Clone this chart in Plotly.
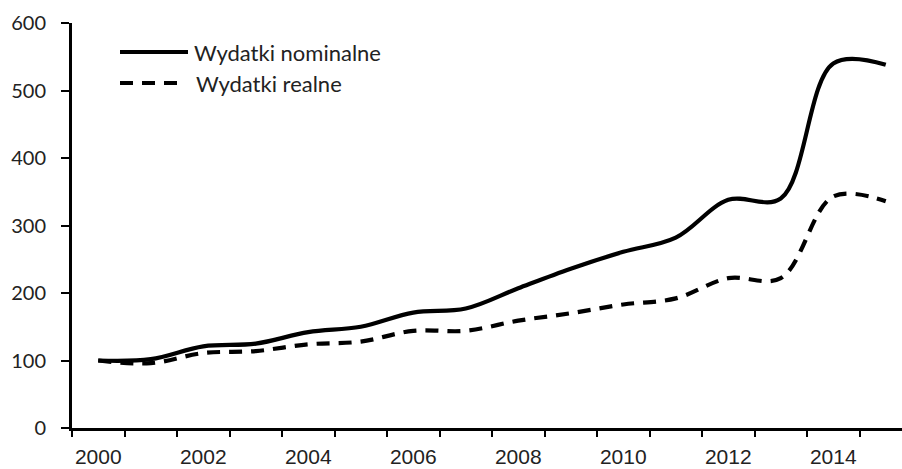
import plotly.graph_objects as go

years = list(range(2000, 2016))
nominal = [100, 102, 121, 125, 142, 150, 171, 177, 207, 236, 261, 282, 338, 340, 540, 538]
real = [100, 96, 111, 114, 124, 128, 144, 144, 159, 170, 183, 192, 222, 222, 343, 336]
label_years = list(range(2000, 2016, 2))
y_ticks = [0, 100, 200, 300, 400, 500, 600]

W, H = 902, 469
L, T, B = 72, 23, 41
R = 0
pw, ph = W - L - R, H - T - B

def px(x):
    return (x - L) / pw

def py(y):
    return (H - B - y) / ph

fig = go.Figure()
fig.add_trace(go.Scatter(x=years, y=nominal, mode="lines", name="Wydatki nominalne",
                         line=dict(color="black", width=4.2, shape="spline", smoothing=1.0)))
fig.add_trace(go.Scatter(x=years, y=real, mode="lines", name="Wydatki realne",
                         line=dict(color="black", width=4.2, shape="spline", smoothing=1.0,
                                   dash="13px,9px")))

# manual legend
fig.add_shape(type="line", xref="paper", yref="paper", x0=px(120), x1=px(188), y0=py(52), y1=py(52),
              line=dict(color="black", width=4.2))
fig.add_shape(type="line", xref="paper", yref="paper", x0=px(120), x1=px(180), y0=py(83), y1=py(83),
              line=dict(color="black", width=4.2, dash="13px,9px"))
fig.add_annotation(text="Wydatki nominalne", xref="paper", yref="paper", x=px(192), y=py(52),
                   xanchor="left", yanchor="middle", showarrow=False,
                   font=dict(family="Lato", size=22, color="#222"))
fig.add_annotation(text="Wydatki realne", xref="paper", yref="paper", x=px(194), y=py(83),
                   xanchor="left", yanchor="middle", showarrow=False,
                   font=dict(family="Lato", size=22, color="#222"))

fig.update_layout(
    width=W, height=H,
    margin=dict(l=L, r=R, t=T, b=B, pad=0),
    paper_bgcolor="white", plot_bgcolor="white",
    showlegend=False,
)
fig.update_xaxes(
    range=[1999.5, 1999.5 + pw / 52.5],
    tickvals=label_years, ticktext=[str(v) for v in label_years],
    ticks="", showgrid=False, zeroline=False,
    showline=True, linecolor="black", linewidth=3,
    tickfont=dict(family="Liberation Sans", size=21, color="#222"),
    ticklabelstandoff=8,
    minor=dict(tick0=1999.5, dtick=1, ticks="outside", ticklen=6, tickwidth=2, tickcolor="black", showgrid=False),
)
fig.update_yaxes(
    range=[0, 600], tickvals=y_ticks,
    ticks="outside", ticklen=8, tickwidth=2, tickcolor="black",
    showgrid=False, zeroline=False,
    showline=True, linecolor="black", linewidth=3,
    tickfont=dict(family="Lato", size=20, color="#222"),
    ticklabelstandoff=11,
)
fig.write_html("out.html", config={"displayModeBar": False},
               post_script="document.body.style.margin='0px';document.body.style.overflow='hidden';")
